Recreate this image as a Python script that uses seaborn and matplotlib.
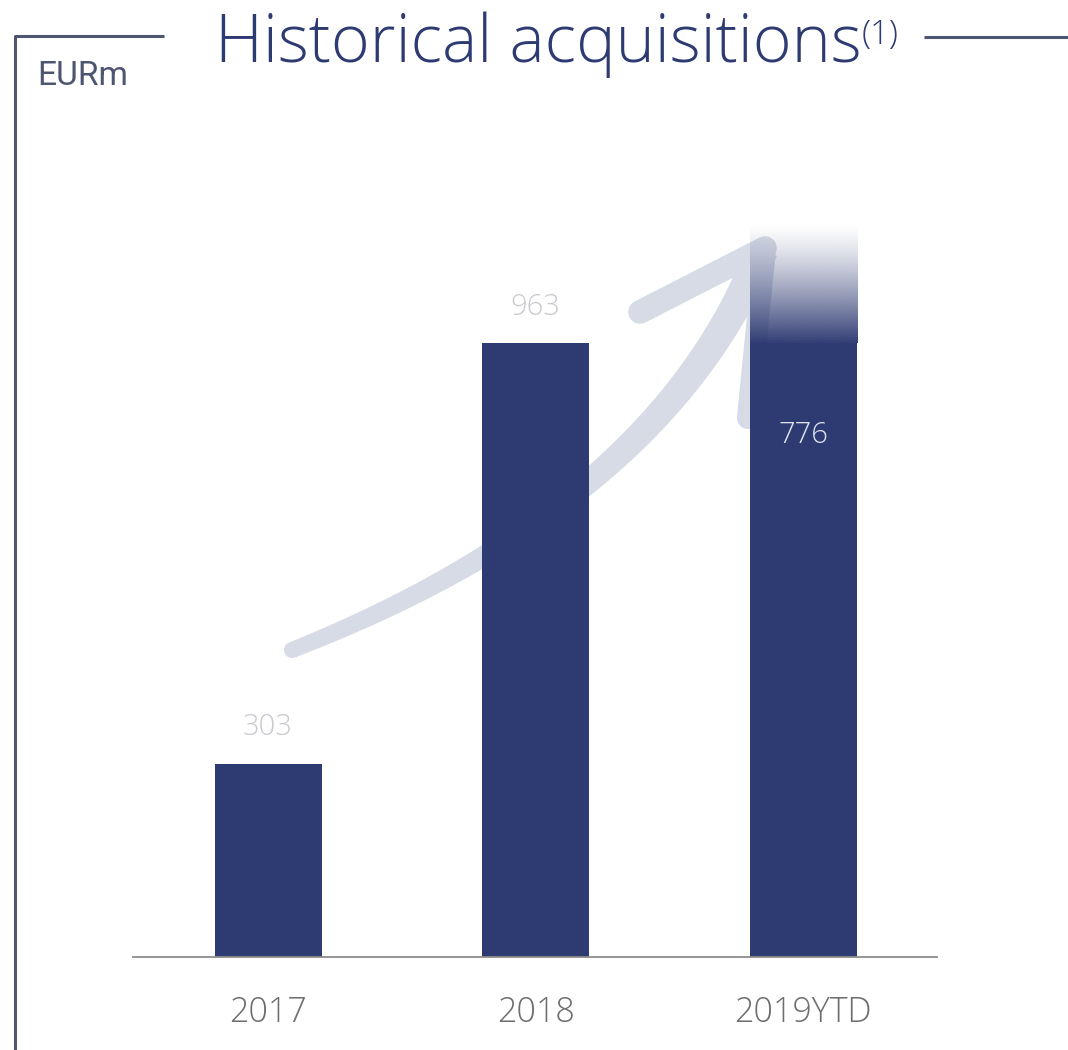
import matplotlib
matplotlib.use("Agg")
import numpy as np
import pandas as pd
import seaborn as sns
import matplotlib.pyplot as plt
from matplotlib import font_manager
from matplotlib.path import Path
from matplotlib.patches import PathPatch, Circle

# ---- data ----
years = ["2017", "2018", "2019YTD"]
acquisitions = [303, 963, 776]
value_labels = ["303", "963", "776"]
# 2019YTD bar continues above the closed amount and fades out
ytd_solid_top = 963
ytd_fade_top = 1150

NAVY = "#2e3a72"
FRAME = "#4e5570"
ARROW = "#d6dbe5"

sns.set_theme(style="white")

available = {f.name for f in font_manager.fontManager.ttflist}


def pick(*names):
    for n in names:
        if n in available:
            return n
    return "DejaVu Sans"


LIGHT = pick("Open Sans", "Lato", "Roboto", "Liberation Sans")
NARROW = pick("Liberation Sans Narrow", "Roboto", "Liberation Sans")
plt.rcParams["font.family"] = [LIGHT, "DejaVu Sans"]

fig = plt.figure(figsize=(10.68, 10.5), dpi=100)
renderer = fig.canvas.get_renderer()

# background layer in pixel coordinates (frame, title, arrow)
bg = fig.add_axes([0, 0, 1, 1], zorder=0)
bg.set_xlim(0, 1068)
bg.set_ylim(1050, 0)
bg.axis("off")

# main bar axes
ax = fig.add_axes([133 / 1068, 93 / 1050, 804 / 1068, 807 / 1050], zorder=1)
ax.patch.set_alpha(0)

df = pd.DataFrame({"year": years, "value": acquisitions})
sns.barplot(data=df, x="year", y="value", color=NAVY, saturation=1,
            width=0.4, edgecolor="none", linewidth=0, ax=ax)

xlim = (-0.505, 2.5)
ylim = (0, 1266)

# extension on top of the year-to-date bar: solid part, then a fade-out
p = ax.patches[2]
x0, w = p.get_x(), p.get_width()
xc = x0 + w / 2
ax.bar(xc, ytd_solid_top - acquisitions[2], bottom=acquisitions[2], width=w,
       color=NAVY, linewidth=0, zorder=2)
fade = ax.bar(xc, ytd_fade_top - ytd_solid_top, bottom=ytd_solid_top, width=w,
              color="none", linewidth=0, zorder=2)[0]
ys = np.linspace(ytd_solid_top, ytd_fade_top, 400)
alpha = (1 - (ys - ytd_solid_top) / (ytd_fade_top - ytd_solid_top)) ** 1.3
rgb = matplotlib.colors.to_rgb(NAVY)
img = np.zeros((len(ys), 1, 4))
img[:, 0, :3] = rgb
img[:, 0, 3] = alpha
im = ax.imshow(img, extent=[x0 - 0.02, x0 + w + 0.02, ytd_solid_top - 3, ytd_fade_top],
               origin="lower", aspect="auto", interpolation="bilinear", zorder=2)
im.set_clip_path(fade)

ax.set_xlim(*xlim)
ax.set_ylim(*ylim)

for s in ["top", "right", "left"]:
    ax.spines[s].set_visible(False)
ax.spines["bottom"].set_color("#8c8c8c")
ax.spines["bottom"].set_linewidth(1.3)
ax.set_yticks([])
ax.set_xlabel("")
ax.set_ylabel("")
ax.tick_params(axis="x", length=0, pad=28, labelsize=24.5, labelcolor="#6e6e6e")
for t in ax.get_xticklabels():
    t.set_fontweight("light")

# value labels
for i, (v, lab) in enumerate(zip(acquisitions, value_labels)):
    if i < 2:
        ax.annotate(lab, (i, v), xytext=(0, 26), textcoords="offset points",
                    ha="center", va="center", fontsize=21, color="#c8cad0",
                    fontweight="light")
    else:
        ax.annotate(lab, (i, v), xytext=(0, 19.5), textcoords="offset points",
                    ha="center", va="center", fontsize=21, color="#dfe3f0",
                    fontweight="light", zorder=5)

# ---- swoosh arrow (decorative, pixel coordinates) ----
P0 = np.array([292, 650.0])
C = np.array([660, 505.0])
P2 = np.array([762, 250.0])
t = np.linspace(0, 1, 200)[:, None]
pts = (1 - t) ** 2 * P0 + 2 * (1 - t) * t * C + t ** 2 * P2
d = 2 * (1 - t) * (C - P0) + 2 * t * (P2 - C)
d /= np.linalg.norm(d, axis=1, keepdims=True)
nrm = np.column_stack([-d[:, 1], d[:, 0]])
half = (8 + 8 * t[:, 0])[:, None]
left = pts + nrm * half
right = pts - nrm * half
poly = np.vstack([left, right[::-1], left[:1]])
codes = [Path.MOVETO] + [Path.LINETO] * (len(poly) - 2) + [Path.CLOSEPOLY]
bg.add_patch(PathPatch(Path(poly, codes), facecolor=ARROW, edgecolor="none"))
bg.add_patch(Circle(P0, 8, facecolor=ARROW, edgecolor="none"))
# arrow head barbs
bg.plot([765, 640], [248, 312], color=ARROW, lw=17, solid_capstyle="round")
bg.plot([765, 748], [248, 418], color=ARROW, lw=16, solid_capstyle="round")

# ---- frame lines ----
bg.plot([15, 15], [36, 1052], color=FRAME, lw=2.2)
bg.plot([15, 164], [36, 36], color=FRAME, lw=2.2, solid_capstyle="butt")
bg.plot([924, 1068], [37, 37], color=FRAME, lw=2.2, solid_capstyle="butt")


def fit_width(txt, target):
    fs = txt.get_fontsize()
    wpx = txt.get_window_extent(renderer).width
    txt.set_fontsize(fs * target / wpx)


title = bg.text(215, 62, "Historical acquisitions", ha="left", va="baseline",
                fontsize=40, color="#2e3a72", fontweight="light")
fit_width(title, 645)
bg.text(862, 44, "(1)", ha="left", va="baseline", fontsize=title.get_fontsize() * 0.5,
        color="#2e3a72", fontweight="light")

eur = bg.text(37, 85, "EURm", ha="left", va="baseline", fontsize=22,
              color=FRAME, family=[NARROW, "DejaVu Sans"])
fit_width(eur, 91)

fig.savefig("out.png", dpi=100)
